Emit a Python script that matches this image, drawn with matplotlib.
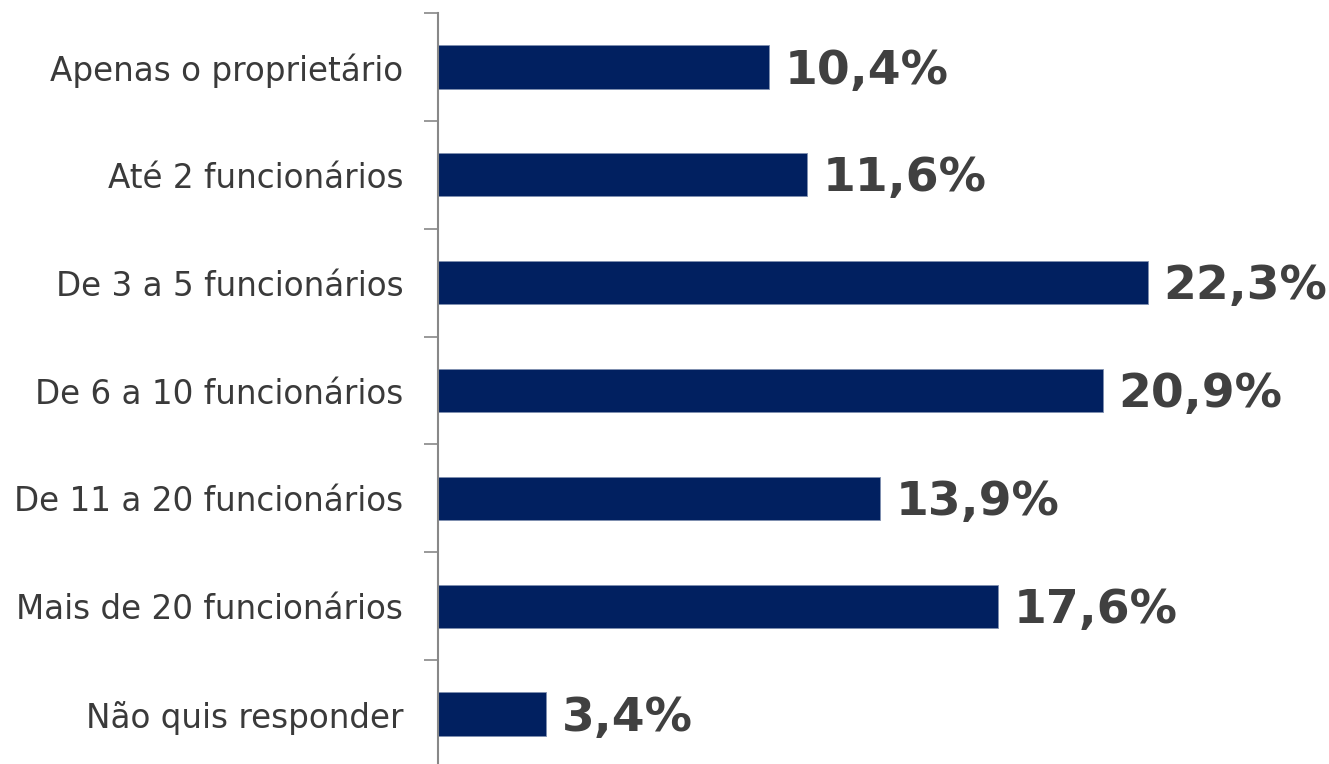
import matplotlib
matplotlib.use("Agg")
import matplotlib.pyplot as plt

# dados do gráfico
categorias = ["Apenas o proprietário", "Até 2 funcionários", "De 3 a 5 funcionários",
              "De 6 a 10 funcionários", "De 11 a 20 funcionários",
              "Mais de 20 funcionários", "Não quis responder"]
valores = [10.4, 11.6, 22.3, 20.9, 13.9, 17.6, 3.4]
rotulos = ["10,4%", "11,6%", "22,3%", "20,9%", "13,9%", "17,6%", "3,4%"]

fig = plt.figure(figsize=(13.29, 7.64), dpi=100)
ax = fig.add_axes([438 / 1329, -4 / 764, 891 / 1329, 755 / 764])

ys = list(range(len(categorias)))
ax.barh(ys, valores, height=0.4, color="#012060", edgecolor="#7f8fb0", linewidth=0.6)

for y, v, r in zip(ys, valores, rotulos):
    ax.annotate(r, (v, y), xytext=(11, -3), textcoords="offset points",
                ha="left", va="center", fontsize=34, fontweight="bold", color="#404040")

ax.set_xlim(0, 28)
ax.set_ylim(len(categorias) - 0.5, -0.5)
ax.set_yticks(ys)
ax.set_yticklabels(categorias, fontsize=23.5, color="#3a3a3a")
ax.tick_params(axis="y", length=0, pad=25)
# marcas entre categorias
ax.set_yticks([i - 0.5 for i in range(len(categorias) + 1)], minor=True)
ax.tick_params(axis="y", which="minor", length=10, width=1.2, color="#888888")
ax.set_xticks([])
for s in ["top", "right", "bottom"]:
    ax.spines[s].set_visible(False)
ax.spines["left"].set_color("#888888")
ax.spines["left"].set_linewidth(1.5)

fig.savefig("out.png", dpi=100)
